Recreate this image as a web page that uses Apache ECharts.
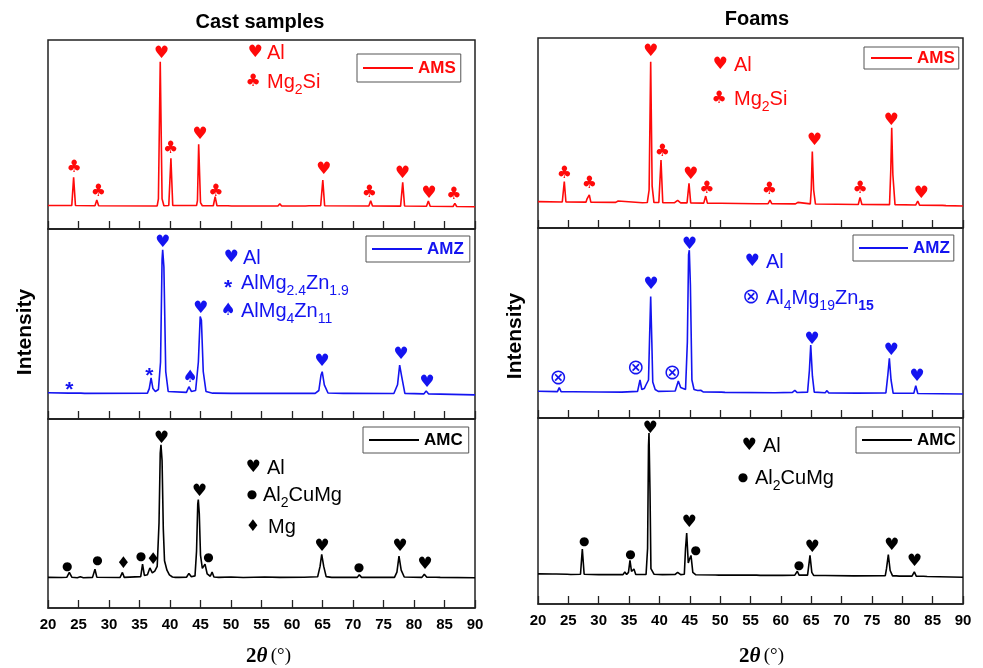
<!DOCTYPE html>
<html>
<head>
<meta charset="utf-8">
<title>XRD – cast samples and foams</title>
<script src="https://cdn.jsdelivr.net/npm/echarts@6/dist/echarts.min.js"></script>
<style>
html, body { margin: 0; padding: 0; background: #fff; }
#chart { width: 983px; height: 668px; }
</style>
</head>
<body>
<div id="chart"></div>
<script>
// 2θ axis
const X_MIN = 20
const X_MAX = 90
const X_STEP = 5

// patterns: [2θ, intensity (0-100 of the panel height)]
const castAMS = [[20,12.4],[23.9,12.4],[24.2,27.3],[24.5,12.4],[27.7,12.3],[28.0,15.3],[28.3,12.3],[37.9,12.2],[38.1,16],[38.4,88.5],[38.7,16],[39.0,12.3],[39.8,12.4],[40.15,37.4],[40.45,12.4],[44.35,12.4],[44.5,15],[44.7,44.8],[45.0,14],[45.3,12.3],[47.1,12.3],[47.4,17.1],[47.7,12.3],[49.5,12.3],[49.8,13.3],[50.1,12.2],[57.7,12.2],[58.0,13.4],[58.3,12.2],[62.2,12.2],[62.5,13],[62.8,12.3],[64.7,12.3],[65.05,25.9],[65.35,12.3],[72.6,12.2],[72.9,15],[73.2,12.2],[77.8,12.1],[78.15,24.7],[78.45,12.2],[82.05,12.0],[82.35,14.8],[82.65,12.0],[86.4,11.9],[86.7,13.6],[87.0,11.9],[90,11.8]]
const castAMZ = [[20,13.8],[23.4,13.6],[23.7,14.6],[24.0,13.6],[25.4,13.6],[25.7,14.1],[26.0,13.5],[36.3,13.6],[36.6,16],[36.9,21.6],[37.2,16],[37.6,14.5],[38.1,15.5],[38.45,30],[38.7,84],[38.8,89],[39.0,80],[39.3,25],[39.7,14.5],[42.7,14],[43.1,17],[43.5,14.5],[44.2,15],[44.65,30],[44.95,53.9],[45.15,52],[45.45,25],[45.9,14.5],[47,13.6],[50.1,13.5],[50.4,14],[50.7,13.5],[63.8,13.5],[64.4,15],[64.75,23],[64.95,24.9],[65.3,18],[65.9,13.7],[68.4,13.5],[68.7,14.2],[69,13.5],[76.7,13.4],[77.3,18],[77.65,28.4],[78.0,22],[78.5,13.5],[81.6,13.2],[82.0,14.7],[82.4,13.2],[90,12.7]]
const castAMC = [[20,16.2],[22.2,16.1],[23.1,16.3],[23.5,18.8],[23.9,16.3],[24.8,16.0],[25.3,16.5],[25.8,16.0],[27.3,16.2],[27.7,20.5],[28.0,16.3],[31.8,16.1],[32.2,18.8],[32.5,16.2],[35.2,16.6],[35.5,23.2],[35.8,17.2],[36.3,17.6],[36.7,21.2],[37.1,18.6],[37.5,19.5],[37.9,22],[38.2,45],[38.4,82],[38.52,86.3],[38.7,78],[38.9,42],[39.1,25],[39.5,20],[39.9,17.5],[40.4,16.4],[40.9,16.2],[41.2,17.0],[41.5,16.2],[42.7,16.3],[43.1,18.3],[43.5,16.5],[44.1,17],[44.35,30],[44.55,55],[44.64,57.4],[44.8,50],[45.0,28],[45.3,21],[45.74,23.2],[46.1,18],[46.6,16.8],[46.9,19],[47.2,16.4],[48,16.2],[50,16.4],[52,16.1],[55.5,16.4],[58,16.2],[62,16.3],[64.2,16.5],[64.6,22],[64.87,28.4],[65.2,22],[65.6,16.6],[66.5,16.2],[70.7,16.2],[71.03,17.6],[71.4,16.2],[76.8,16.2],[77.2,19],[77.54,27.5],[77.9,20],[78.4,16.4],[81.3,16.2],[81.69,17.9],[82.1,16.3],[83.6,16.3],[83.9,17],[84.3,16.2],[90,16.0]]
const foamAMS = [[20,13.9],[24.0,13.7],[24.33,24.4],[24.6,13.7],[27.9,13.6],[28.1,15.5],[28.25,14.8],[28.45,17.4],[28.7,13.6],[32.8,13.5],[33.2,14.2],[33.5,13.5],[37.2,13.3],[38.0,13.4],[38.3,20],[38.56,87.5],[38.8,22],[39.1,13.4],[39.9,13.4],[40.26,35.8],[40.55,13.3],[42.5,13.3],[43.0,14.5],[43.5,13.2],[44.55,13.2],[44.87,23.5],[45.15,13.2],[47.3,13.1],[47.62,16.8],[47.9,13.1],[49.5,13.0],[49.8,13.6],[50.1,13.0],[56.0,12.8],[56.3,13.8],[56.6,12.8],[57.9,12.8],[58.21,14.7],[58.5,12.8],[62.4,12.7],[62.8,13.5],[63.1,12.7],[64.85,12.7],[65.0,20],[65.18,40.2],[65.4,20],[65.7,12.6],[72.75,12.4],[73.04,16.1],[73.35,12.4],[77.9,12.3],[78.1,30],[78.26,52.8],[78.45,28],[78.8,12.3],[82.2,12.1],[82.54,14.2],[82.85,12.0],[86.6,11.9],[86.9,12.7],[87.2,11.8],[90,11.6]]
const foamAMZ = [[20,14.1],[23.2,13.9],[23.5,16],[23.8,13.9],[25.2,13.8],[25.5,14.4],[25.8,13.8],[30,13.7],[33.8,13.6],[36.4,14],[36.8,20],[37.1,15],[37.5,15.5],[37.8,17.5],[38.2,20],[38.4,45],[38.56,63.9],[38.75,40],[38.9,19],[39.1,20],[39.3,15],[39.8,14],[42.6,14.2],[43.11,19.5],[43.5,16],[44.3,15],[44.6,40],[44.8,86],[44.92,88.3],[45.1,70],[45.35,20],[45.7,15],[46.0,15.5],[46.3,14.5],[46.8,14.6],[47.2,13.7],[50.2,13.6],[50.5,14.2],[50.8,13.5],[59,13.3],[61.9,13.5],[62.3,14.5],[62.7,13.4],[64.4,13.6],[64.7,25],[64.92,38.4],[65.2,22],[65.5,13.6],[67.3,13.3],[67.6,14.4],[67.9,13.2],[72.6,13.1],[77.3,13.2],[77.6,22],[77.87,31.4],[78.15,20],[78.5,13],[81.9,13],[82.22,17],[82.55,12.9],[90,12.6]]
const foamAMC = [[20,16.2],[22.4,16.1],[22.7,16.8],[23.0,16.1],[24.8,16.0],[25.1,16.7],[25.4,15.9],[27.0,16],[27.3,29.6],[27.6,16],[30,15.8],[34.0,15.8],[34.3,17.2],[34.6,15.9],[34.9,17],[35.15,23.4],[35.4,17.5],[35.8,18.8],[36.1,15.9],[37.8,15.9],[38.05,30],[38.2,85],[38.28,91.9],[38.45,60],[38.6,19],[38.9,19.5],[39.1,16],[40.5,15.8],[42.6,15.9],[43.0,17],[43.5,15.8],[44.1,16],[44.3,30],[44.49,38.1],[44.75,22],[44.95,24],[45.2,26.1],[45.5,17],[46,15.7],[49.2,15.6],[49.5,16.6],[49.8,15.5],[51,15.6],[56,15.5],[56.3,16.2],[56.6,15.4],[59.7,15.4],[60.0,16.4],[60.3,15.4],[62.3,15.5],[62.71,17.6],[63.0,15.5],[64.4,15.5],[64.8,26.1],[65.1,17],[65.4,15.4],[66.7,15.3],[67.0,16.3],[67.3,15.3],[72,15.1],[77.2,15.2],[77.4,19],[77.7,26.6],[78.0,18],[78.4,15.1],[79.0,15.1],[79.2,16.1],[79.5,15],[81.6,15],[81.98,17.3],[82.3,15],[83.5,14.9],[83.8,15.6],[84.1,14.8],[90,14.4]]

// phase markers above the peaks: [2θ, height, glyph]
const castAMSMarks = [[24.3,32.5,'♣'],[28.25,20,'♣'],[38.6,93,'♥'],[40.1,42.5,'♣'],[44.9,50,'♥'],[47.5,20,'♣'],[65.2,31.5,'♥'],[72.7,19.5,'♣'],[78.1,29.5,'♥'],[82.45,19,'♥'],[86.55,18,'♣']]
const castAMZMarks = [[23.5,17.9,'*'],[36.6,25.4,'*'],[38.8,92.6,'♥'],[43.3,21.9,'♠'],[45.0,58.2,'♥'],[64.9,30.2,'♥'],[77.85,33.7,'♥'],[82.1,19.1,'♥']]
const castAMCMarks = [[23.15,21.7,'●'],[28.1,24.9,'●'],[32.35,23.2,'♦'],[35.25,27,'●'],[37.25,25.4,'♦'],[38.6,89.8,'♥'],[44.8,61.7,'♥'],[46.3,26.7,'●'],[64.9,32.5,'♥'],[71.0,21.4,'●'],[77.7,32.3,'♥'],[81.8,23.2,'♥']]
const foamAMSMarks = [[24.33,28.8,'♣'],[28.45,23.2,'♣'],[38.56,92.8,'♥'],[40.5,40.2,'♣'],[45.15,27.9,'♥'],[47.8,20.9,'♣'],[58.1,20,'♣'],[65.5,46,'♥'],[73.04,20.9,'♣'],[78.15,56.5,'♥'],[83.1,17.9,'♥']]
const foamAMZMarks = [[23.35,20.9,'⊗'],[36.1,26.2,'⊗'],[38.6,70.4,'♥'],[42.1,23.5,'⊗'],[44.92,91.5,'♥'],[65.1,41.4,'♥'],[78.15,35.3,'♥'],[82.4,21.7,'♥']]
const foamAMCMarks = [[27.6,33.2,'●'],[35.25,26.6,'●'],[38.45,94.3,'♥'],[44.87,43.8,'♥'],[45.97,28.7,'●'],[63.0,20.5,'●'],[65.13,30.5,'♥'],[78.26,31.6,'♥'],[81.98,22.6,'♥']]

// phase keys in each panel: [glyph, rich label]
const castAMSPhases = [['♥','Al'],['♣','Mg{s|2}Si']]
const castAMZPhases = [['♥','Al'],['*','AlMg{s|2.4}Zn{s|1.9}'],['♠','AlMg{s|4}Zn{s|11}']]
const castAMCPhases = [['♥','Al'],['●','Al{s|2}CuMg'],['♦','Mg']]
const foamAMSPhases = [['♥','Al'],['♣','Mg{s|2}Si']]
const foamAMZPhases = [['♥','Al'],['⊗','Al{s|4}Mg{s|19}Zn{sb|15}']]
const foamAMCPhases = [['♥','Al'],['●','Al{s|2}CuMg']]

const RED = '#ff0a0a'
const BLUE = '#1414f0'
const BLACK = '#000'
const SANS = '"Liberation Sans", Arial, sans-serif'
const SYM = '"DejaVu Sans", sans-serif'

// glyph look: [font size, family, weight, dy]
const GLYPH = {
  '♥': [17, SYM, 'normal', 0],
  '♣': [17, SYM, 'normal', 0],
  '♠': [17, SYM, 'normal', 0],
  '♦': [16, SYM, 'normal', 0],
  '●': [12, SYM, 'normal', 0],
  '⊗': [21, SYM, 'normal', 0],
  '*': [21, SANS, 'bold', 5],
}

const panels = [
  { name: 'AMS', color: RED, data: castAMS, marks: castAMSMarks, phases: castAMSPhases,
    grid: [48, 40, 427, 189], legend: [357, 54, [5, 5, 5, 6], 50],
    keys: [[255, 267, 53], [253, 267, 82]] },
  { name: 'AMZ', color: BLUE, data: castAMZ, marks: castAMZMarks, phases: castAMZPhases,
    grid: [48, 229, 427, 190], legend: [366, 236, [4, 6, 4, 6], 50],
    keys: [[231, 243, 258], [228, 241, 283], [228, 241, 311]] },
  { name: 'AMC', color: BLACK, data: castAMC, marks: castAMCMarks, phases: castAMCPhases,
    grid: [48, 419, 427, 190], legend: [363, 427, [4, 6, 4, 6], 50], bottom: true,
    keys: [[253, 267, 468], [252, 263, 495], [253, 268, 527]] },
  { name: 'AMS', color: RED, data: foamAMS, marks: foamAMSMarks, phases: foamAMSPhases,
    grid: [538, 38, 425, 190], legend: [864, 47, [2, 4, 2, 7], 41],
    keys: [[720, 734, 65], [719, 734, 99]] },
  { name: 'AMZ', color: BLUE, data: foamAMZ, marks: foamAMZMarks, phases: foamAMZPhases,
    grid: [538, 228, 425, 190], legend: [853, 235, [4, 4, 4, 6], 49],
    keys: [[752, 766, 262], [751, 766, 298]] },
  { name: 'AMC', color: BLACK, data: foamAMC, marks: foamAMCMarks, phases: foamAMCPhases,
    grid: [538, 418, 425, 189], legend: [856, 427, [4, 4, 4, 6], 50], bottom: true,
    keys: [[749, 763, 446], [743, 755, 478]] },
]

const grid = []
const xAxis = []
const yAxis = []
const series = []
const legend = []
const graphic = []

panels.forEach((p, i) => {
  const [left, top, width, height] = p.grid
  grid.push({ left, top, width, height, show: true, borderColor: '#222', borderWidth: 1.5 })
  xAxis.push({
    gridIndex: i, type: 'value', min: X_MIN, max: X_MAX, interval: X_STEP,
    axisLine: { show: true, lineStyle: { color: '#222', width: 1.5 } },
    axisTick: { show: true, inside: true, length: 8, lineStyle: { color: '#222', width: 1.3 } },
    axisLabel: { show: !!p.bottom, margin: 9, color: '#000', fontSize: 15, fontWeight: 'bold', fontFamily: SANS },
    splitLine: { show: false },
    name: p.bottom ? '{b|2}{i|θ} {n|(°)}' : '',
    nameLocation: 'middle',
    nameGap: i < 3 ? 38 : 42,
    nameTextStyle: {
      padding: [0, 0, 0, i < 3 ? 14 : 22],
      rich: {
        b: { fontFamily: '"Liberation Serif", serif', fontWeight: 'bold', fontSize: 21, color: '#000' },
        i: { fontFamily: '"Liberation Serif", serif', fontWeight: 'bold', fontStyle: 'italic', fontSize: 21, color: '#000' },
        n: { fontFamily: '"Liberation Serif", serif', fontSize: 19, color: '#000' },
      },
    },
  })
  yAxis.push({
    gridIndex: i, type: 'value', min: 0, max: 100,
    axisLine: { show: false }, axisTick: { show: false }, axisLabel: { show: false },
    splitLine: { show: false },
  })
  series.push({
    type: 'line', name: p.name, xAxisIndex: i, yAxisIndex: i, data: p.data,
    symbol: 'none', lineStyle: { color: p.color, width: 1.6 }, itemStyle: { color: p.color },
    z: 2,
  })
  series.push({
    type: 'scatter', name: 'marks' + i, xAxisIndex: i, yAxisIndex: i, silent: true,
    symbolSize: 0, itemStyle: { color: 'rgba(0,0,0,0)' }, z: 3,
    data: p.marks.map((m) => {
      const g = GLYPH[m[2]]
      return {
        value: [m[0], m[1]], glyph: m[2],
        label: { fontSize: g[0], fontFamily: g[1], fontWeight: g[2], offset: [0, g[3]] },
      }
    }),
    label: {
      show: true, position: 'inside', color: p.color, opacity: 1,
      textBorderWidth: 0, formatter: (d) => d.data.glyph,
    },
  })
  const [lLeft, lTop, lPad, lItemW] = p.legend
  legend.push({
    left: lLeft, top: lTop, data: [p.name], selectedMode: false,
    icon: 'rect', padding: lPad, itemWidth: lItemW, itemHeight: 2,
    borderColor: '#555', borderWidth: 1,
    textStyle: { color: p.color, fontWeight: 'bold', fontSize: 17, fontFamily: SANS, lineHeight: 18 },
  })
  p.phases.forEach((ph, k) => {
    const [gx, tx, ty] = p.keys[k]
    const g = GLYPH[ph[0]]
    graphic.push({
      type: 'text', x: gx, y: ty + g[3], silent: true,
      style: {
        text: ph[0], fill: p.color, font: `${g[2]} ${g[0]}px ${g[1]}`,
        align: 'center', verticalAlign: 'middle', textAlign: 'center', textVerticalAlign: 'middle',
      },
    })
    graphic.push({
      type: 'text', x: tx, y: ty, silent: true,
      style: {
        text: ph[1], fill: p.color, font: `20px ${SANS}`, lineHeight: 30,
        align: 'left', verticalAlign: 'middle', textAlign: 'left', textVerticalAlign: 'middle',
        rich: {
          s: { fontSize: 14, fontFamily: SANS, lineHeight: 14, verticalAlign: 'bottom', fill: p.color },
          sb: { fontSize: 14, fontFamily: SANS, fontWeight: 'bold', lineHeight: 14, verticalAlign: 'bottom', fill: p.color },
        },
      },
    })
  })
})

// column titles and the intensity labels
const heads = [
  ['Cast samples', 260, 22],
  ['Foams', 757, 19],
]
heads.forEach(([t, x, y]) => {
  graphic.push({
    type: 'text', x, y, silent: true,
    style: { text: t, fill: '#000', font: `bold 20px ${SANS}`, align: 'center', verticalAlign: 'middle', textAlign: 'center', textVerticalAlign: 'middle' },
  })
})
;[[25, 332], [515, 336]].forEach(([x, y]) => {
  graphic.push({
    type: 'text', x, y, rotation: Math.PI / 2, silent: true,
    style: { text: 'Intensity', fill: '#000', font: `bold 21px ${SANS}`, align: 'center', verticalAlign: 'middle', textAlign: 'center', textVerticalAlign: 'middle' },
  })
})

const chart = echarts.init(document.getElementById('chart'), null, { renderer: 'canvas' })
chart.setOption({
  animation: false,
  backgroundColor: '#fff',
  grid, xAxis, yAxis, series, legend, graphic,
})
window.addEventListener('resize', () => chart.resize())
</script>
</body>
</html>
